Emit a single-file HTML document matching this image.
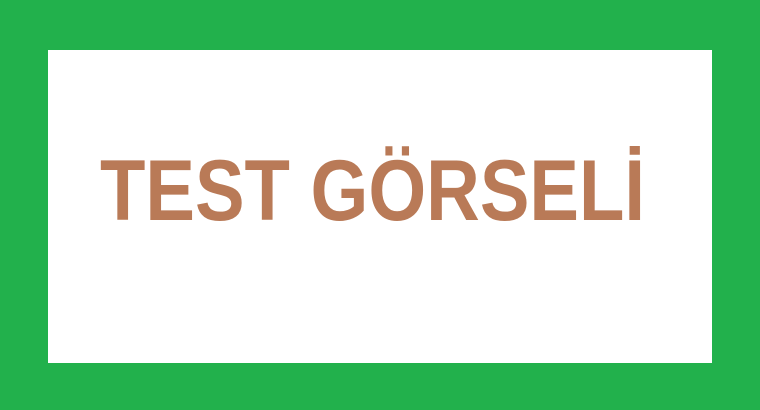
<!DOCTYPE html>
<html><head><meta charset="utf-8"><style>
html,body{margin:0;padding:0;width:760px;height:410px;overflow:hidden;background:#22B14C}
</style></head><body>
<svg width="760" height="410">
<rect x="0" y="0" width="760" height="410" fill="#22B14C"/>
<rect x="48" y="50" width="664" height="313" fill="#FFFFFF"/>
<text x="100" y="220" font-family="Liberation Sans, sans-serif" font-weight="bold" font-size="86" fill="#B97A57" textLength="545" lengthAdjust="spacingAndGlyphs">TEST GÖRSELİ</text>
</svg>
</body></html>
